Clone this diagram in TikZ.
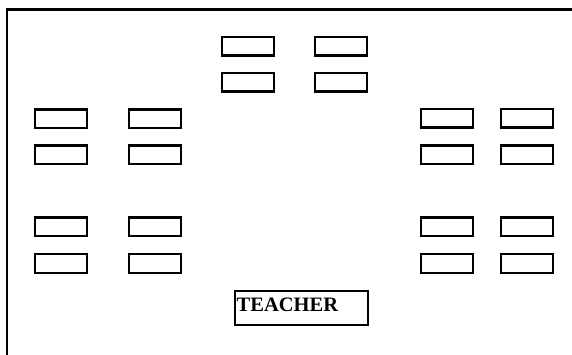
\documentclass[tikz,border=0pt]{standalone}
\usepackage{fontspec}
\setmainfont{Liberation Serif}
\begin{document}
\begin{tikzpicture}[x=1pt,y=-1pt,
  desk/.style={draw, line width=2.2pt, minimum width=51.5pt, minimum height=18.5pt, inner sep=0pt, anchor=north west},
  frame/.style={line width=2.4pt}]
\useasboundingbox (0,0) rectangle (572,355);
\draw[frame] (7,355) -- (7,9.5) -- (572,9.5);
% top cluster
\node[desk] (t1) at (221,36) {};
\node[desk] (t2) at (314,36) {};
\node[desk] (t3) at (221,72) {};
\node[desk] (t4) at (314,72) {};
% left upper
\node[desk] (l1) at (34,108.5) {};
\node[desk] (l2) at (128,108.5) {};
\node[desk] (l3) at (34,144.5) {};
\node[desk] (l4) at (128,144.5) {};
% left lower
\node[desk] (l5) at (34,216.5) {};
\node[desk] (l6) at (128,216.5) {};
\node[desk] (l7) at (34,253) {};
\node[desk] (l8) at (128,253) {};
% right upper
\node[desk] (r1) at (420,108) {};
\node[desk] (r2) at (500,108) {};
\node[desk] (r3) at (420,144.5) {};
\node[desk] (r4) at (500,144.5) {};
% right lower
\node[desk] (r5) at (420,216.5) {};
\node[desk] (r6) at (500,216.5) {};
\node[desk] (r7) at (420,253) {};
\node[desk] (r8) at (500,253) {};
% teacher
\node[draw, line width=2.2pt, minimum width=132.5pt, minimum height=33.5pt, inner sep=0pt, anchor=north west] (teacher) at (234,290) {};
\node[anchor=base west, inner sep=0pt, font=\bfseries\fontsize{20.5pt}{24pt}\selectfont] (tlabel) at (236.5,311) {TEACHER};
\end{tikzpicture}
\end{document}
